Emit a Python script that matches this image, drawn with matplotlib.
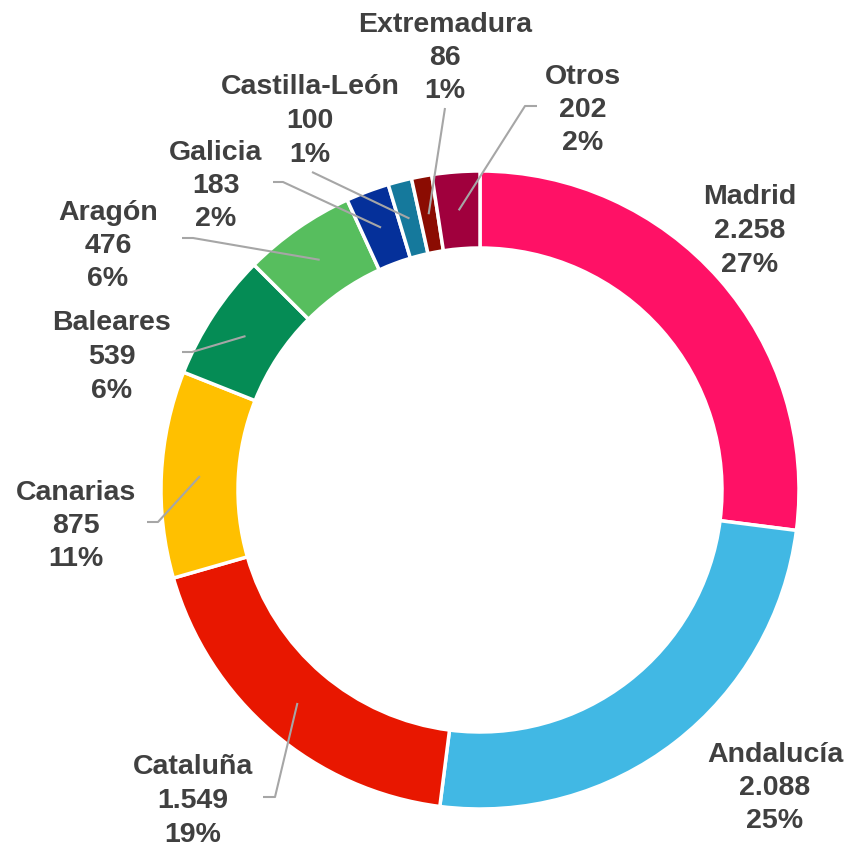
import matplotlib
matplotlib.use("Agg")
import matplotlib.pyplot as plt
import numpy as np

# data
regions = ["Madrid", "Andalucía", "Cataluña", "Canarias", "Baleares",
           "Aragón", "Galicia", "Castilla-León", "Extremadura", "Otros"]
values = [2258, 2088, 1549, 875, 539, 476, 183, 100, 86, 202]
percents = [27, 25, 19, 11, 6, 6, 2, 1, 1, 2]
colors = ["#FF1166", "#41B8E4", "#E81700", "#FFC000", "#058C55",
          "#57BE5E", "#05309A", "#15799C", "#8B0C02", "#A0003D"]

# layout in pixels (from top-left of an 849x848 canvas)
W, H = 849, 848
center_px = (480, 490)
r_out, ring = 319, 77
line_step = 33.5
label_px = {
    "Madrid": (750, 228), "Andalucía": (775, 785), "Cataluña": (193, 798),
    "Canarias": (76, 523), "Baleares": (112, 354), "Aragón": (108, 243),
    "Galicia": (216, 183), "Castilla-León": (310, 118),
    "Extremadura": (445, 55), "Otros": (583, 107),
}
# leader start point and optional elbow x
leaders = {
    "Extremadura": ((445, 108), None), "Otros": ((537, 106), 525),
    "Castilla-León": ((312, 172), None), "Galicia": ((273, 182), 283),
    "Aragón": ((182, 238), 193), "Baleares": ((182, 352), 192),
    "Canarias": ((147, 522), 158), "Cataluña": ((263, 797), 275),
}


def fmt(n):
    return f"{n:,}".replace(",", ".")


fig = plt.figure(figsize=(W / 100, H / 100), dpi=100)
ax = fig.add_axes([0, 0, 1, 1])
cx, cy = center_px[0], H - center_px[1]

wedges, _ = ax.pie(values, colors=colors, startangle=90, counterclock=False,
                   center=(cx, cy), radius=r_out,
                   wedgeprops=dict(width=ring, edgecolor="white", linewidth=2.5))
ax.set_xlim(0, W)
ax.set_ylim(0, H)
ax.set_aspect("equal")
ax.axis("off")

r_mid = r_out - ring / 2
for name, v, p, w in zip(regions, values, percents, wedges):
    x, y = label_px[name]
    # one text per line so the label boxes stay tight
    for k, s in enumerate([name, fmt(v), f"{p}%"]):
        ax.text(x, H - y - (k - 1) * line_step, s, ha="center", va="center_baseline",
                fontsize=20.5, fontweight="bold", color="#404040",
                family=["Liberation Sans", "DejaVu Sans"])
    if name in leaders:
        ang = np.deg2rad((w.theta1 + w.theta2) / 2)
        ax_, ay_ = cx + r_mid * np.cos(ang), cy + r_mid * np.sin(ang)
        (sx, sy), ex = leaders[name]
        xs, ys = [sx], [H - sy]
        if ex is not None:
            xs.append(ex)
            ys.append(H - sy)
        xs.append(ax_)
        ys.append(ay_)
        ax.plot(xs, ys, color="#A6A6A6", lw=1.5, solid_capstyle="butt")

fig.savefig("out.png", dpi=100)
